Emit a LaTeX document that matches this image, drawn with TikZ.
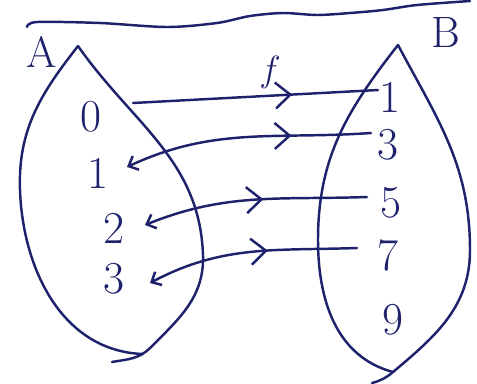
\documentclass[tikz,border=0pt]{standalone}
\usepackage{tikz}
\usetikzlibrary{arrows.meta,decorations.markings}
\definecolor{ink}{RGB}{30,34,108}
\tikzset{
  ad ink/.style={draw=ink,line width=1.4pt,line cap=round,line join=round},
  ad elem/.style={text=ink,font=\fontsize{26}{28}\selectfont,inner sep=1pt},
  ad setname/.style={text=ink,font=\fontsize{25}{27}\selectfont,inner sep=1pt},
  ad fname/.style={text=ink,font=\fontsize{22}{24}\selectfont,inner sep=1pt},
  ad map/.style={ad ink,postaction={decorate},decoration={markings,
    mark=at position #1 with {\arrow{Straight Barb[length=3mm,width=5.2mm]}}}},
  ad hook/.style={{Straight Barb[length=1.6mm,width=3mm]}-}
}
\begin{document}
\begin{tikzpicture}[x=0.02cm,y=-0.02cm]
  \useasboundingbox (0,0) rectangle (477,383);

  % underline of the heading
  \draw[ad ink] plot[smooth] coordinates {(27,27) (37,22) (100,23) (167,27)
    (217,23) (250,16) (283,13) (317,15) (350,13) (383,10) (417,5) (470,1)};

  % the two sets, drawn freehand
  \draw[ad ink] (78,46) to[out=232,in=92] (20,190) to[out=-88,in=178] (143,354);
  \draw[ad ink] (78,46) to[out=-55,in=92] (203,255) to[out=-88,in=45] (150,348)
    to[out=225,in=10] (112,362);
  \draw[ad ink] (398,45) to[out=232,in=90] (318,240) to[out=-90,in=165] (393,372);
  \draw[ad ink] (398,45) to[out=-62,in=90] (470,250) to[out=-90,in=40] (393,372)
    to[out=220,in=15] (372,383);

  \node[ad setname] (setA) at (42,52) {A};
  \node[ad setname] (setB) at (446,32) {B};
  \node[ad fname] (fname) at (270,72) {$f$};

  % domain
  \node[ad elem] (a0) at (91,117) {0};
  \node[ad elem] (a1) at (98,173) {1};
  \node[ad elem] (a2) at (114,228) {2};
  \node[ad elem] (a3) at (114,279) {3};

  % codomain
  \node[ad elem] (b1) at (390,97) {1};
  \node[ad elem] (b3) at (388,145) {3};
  \node[ad elem] (b5) at (391,203) {5};
  \node[ad elem] (b7) at (388,255) {7};
  \node[ad elem] (b9) at (393,320) {9};

  % the mapping
  \draw[ad map=0.65] ([shift={(42,-14)}]a0.center) -- ([shift={(-12,-7)}]b1.center);
  \draw[ad map=0.68,ad hook] ([shift={(29,-6)}]a1.center) to[out=25,in=184]
    ([shift={(-17,-12)}]b3.center);
  \draw[ad map=0.54,ad hook] ([shift={(31,-3)}]a2.center) to[out=22,in=182]
    ([shift={(-24,-6)}]b5.center);
  \draw[ad map=0.58,ad hook] ([shift={(36,4)}]a3.center) to[out=28,in=182]
    ([shift={(-31,-7)}]b7.center);
\end{tikzpicture}
\end{document}
